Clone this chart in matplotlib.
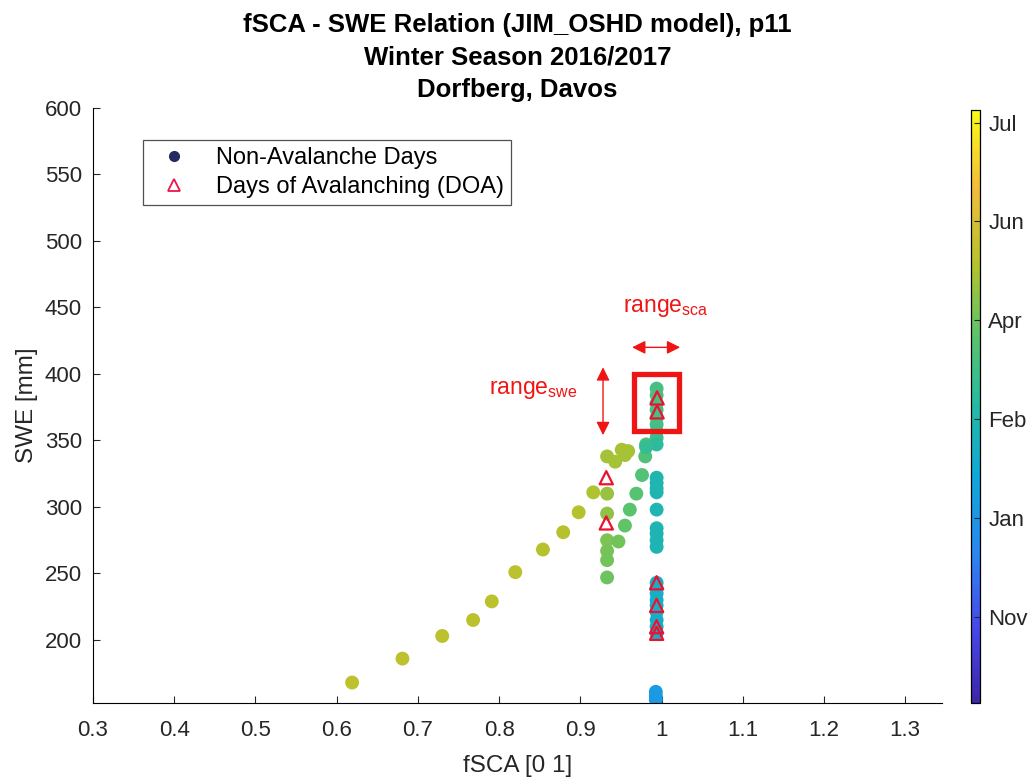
import numpy as np
import matplotlib
matplotlib.use('Agg')
import matplotlib.pyplot as plt
from matplotlib.colors import LinearSegmentedColormap
from matplotlib.lines import Line2D
from matplotlib.patches import Rectangle

plt.rcParams['font.family'] = ['Liberation Sans', 'DejaVu Sans']
plt.rcParams['mathtext.fontset'] = 'custom'
plt.rcParams['mathtext.rm'] = 'Liberation Sans'

# non-avalanche days: fSCA, SWE and season index (colour)
fsca = [0.619, 0.681, 0.730, 0.768, 0.791, 0.820, 0.854, 0.879, 0.898, 0.916,
        0.933, 0.943, 0.951, 0.959, 0.955, 0.933, 0.933, 0.933, 0.933, 0.933,
        0.933, 0.947,
        0.955, 0.961, 0.969, 0.976, 0.980, 0.981,
        0.994, 0.994, 0.994, 0.994, 0.994, 0.994, 0.994, 0.994,
        0.994, 0.981,
        0.994, 0.994, 0.994, 0.994, 0.994, 0.994, 0.994, 0.994, 0.994,
        0.994, 0.994, 0.994, 0.994, 0.994, 0.994, 0.994, 0.994, 0.994,
        0.993, 0.993, 0.993]
swe = [168, 186, 203, 215, 229, 251, 268, 281, 296, 311,
       338, 334, 343, 342, 339, 310, 295, 275, 267, 260,
       247, 274,
       286, 298, 310, 324, 338, 347,
       389, 384, 378, 373, 367, 362, 357, 352,
       347, 345,
       322, 318, 314, 311, 298, 284, 280, 275, 270,
       243, 239, 235, 230, 226, 221, 215, 210, 205,
       161, 158, 155]
season = [182, 182, 181, 181, 180, 180, 179, 179, 178, 176,
          172, 173, 174, 174, 173, 168, 165, 160, 158, 156,
          154, 156,
          150, 148, 146, 144, 142, 140,
          138, 138, 137, 137, 136, 136, 135, 133,
          125, 128,
          115, 115, 114, 114, 113, 113, 112, 112, 112,
          104, 104, 103, 103, 102, 102, 101, 101, 100,
          80, 79, 78]

# days of avalanching
doa_fsca = [0.9946, 0.9946, 0.932, 0.932, 0.994, 0.994, 0.994, 0.994]
doa_swe = [382, 371.5, 322, 288, 243, 226, 210, 205]

cb_ticks = [35, 75, 115, 155, 195, 235]
cb_labels = ['Nov', 'Jan', 'Feb', 'Apr', 'Jun', 'Jul']

parula = LinearSegmentedColormap.from_list('parula', [
    (0.00, '#3e26a8'), (0.12, '#4646ea'), (0.25, '#2d85f2'),
    (0.38, '#0ea8d8'), (0.50, '#24b9a6'), (0.62, '#5cc36c'),
    (0.74, '#b4c22c'), (0.87, '#f2bd3a'), (1.00, '#f9fb15')])

red = '#f01515'

fig = plt.figure(figsize=(10.28, 7.82), dpi=100)
ax = fig.add_axes([0.0905, 0.101, 0.826, 0.761])
cax = fig.add_axes([0.9446, 0.101, 0.0088, 0.758])

sc = ax.scatter(fsca, swe, c=season, cmap=parula, vmin=0, vmax=240, s=100,
                edgecolors='none', zorder=2)
ax.scatter(doa_fsca, doa_swe, marker='^', s=90, facecolors='none',
           edgecolors='#ee1030', linewidths=1.6, zorder=3)

ax.set_xlim(0.3, 1.3456)
ax.set_ylim(152.6, 600)
ax.set_xticks(np.arange(0.3, 1.31, 0.1))
ax.set_xticklabels(['0.3', '0.4', '0.5', '0.6', '0.7', '0.8', '0.9', '1',
                    '1.1', '1.2', '1.3'])
ax.set_yticks(np.arange(200, 601, 50))
ax.spines['top'].set_visible(False)
ax.spines['right'].set_visible(False)
ax.tick_params(direction='in', length=5, labelsize=16, colors='#262626')
ax.tick_params(axis='x', pad=12)
ax.tick_params(axis='y', pad=8)
ax.set_xlabel('fSCA [0 1]', fontsize=17.5, color='#262626', labelpad=10)
ax.set_ylabel('SWE [mm]', fontsize=17.5, color='#262626', labelpad=5)
ax.set_title('fSCA - SWE Relation (JIM_OSHD model), p11\n'
             'Winter Season 2016/2017\nDorfberg, Davos',
             fontsize=18.5, fontweight='bold', linespacing=1.45, pad=8)

# annotation of the ranges
ax.add_patch(Rectangle((0.966, 357), 0.055, 43, fill=False, ec=red, lw=3.8,
                       zorder=4))
ax.annotate('', xy=(0.9638, 420), xytext=(1.023, 420),
            arrowprops=dict(arrowstyle='<|-|>', color=red, lw=1,
                            mutation_scale=20, shrinkA=0, shrinkB=0))
ax.annotate('', xy=(0.928, 354), xytext=(0.928, 405),
            arrowprops=dict(arrowstyle='<|-|>', color=red, lw=1,
                            mutation_scale=20, shrinkA=0, shrinkB=0))
ax.text(0.953, 450, r'range$_{\mathrm{sca}}$', color=red, fontsize=16.5,
        va='center', ha='left')
ax.text(0.788, 388, r'range$_{\mathrm{swe}}$', color=red, fontsize=16.5,
        va='center', ha='left')

handles = [Line2D([], [], marker='o', ls='none', color='#262a63', ms=7),
           Line2D([], [], marker='^', ls='none', mfc='none', mec='#e8184e',
                  ms=8, mew=1.3)]
leg = ax.legend(handles, ['Non-Avalanche Days', 'Days of Avalanching (DOA)'],
                loc='upper left', bbox_to_anchor=(0.059, 0.946),
                borderaxespad=0, fancybox=False, edgecolor='#262626',
                fontsize=17, handletextpad=0.8, borderpad=0.3,
                labelspacing=0.3)
leg.get_frame().set_linewidth(0.9)

cb = fig.colorbar(sc, cax=cax)
cb.set_ticks(cb_ticks)
cb.set_ticklabels(cb_labels)
cb.ax.tick_params(direction='in', length=4, labelsize=16, colors='#262626',
                  pad=6)
cb.outline.set_linewidth(0.9)

fig.savefig('out.png', dpi=100)
